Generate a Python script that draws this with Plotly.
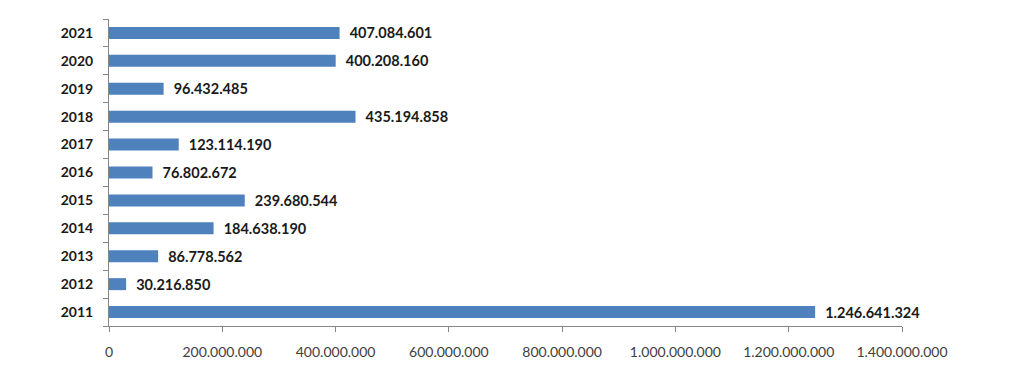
import plotly.graph_objects as go

years = ["2011", "2012", "2013", "2014", "2015", "2016", "2017", "2018", "2019", "2020", "2021"]
values = [1246641324, 30216850, 86778562, 184638190, 239680544, 76802672,
          123114190, 435194858, 96432485, 400208160, 407084601]

fig = go.Figure(go.Bar(
    y=years, x=values, orientation="h",
    marker=dict(color="#4F81BD", line=dict(width=0)),
    width=0.43,
    texttemplate="\u00a0\u00a0%{x:,d}",
    textposition="outside",
    constraintext="none",
    textfont=dict(family="Lato, Carlito, sans-serif", size=14.5, color="#1a1a1a", weight="bold"),
    cliponaxis=False,
    hoverinfo="skip",
))

fig.update_layout(
    width=1024, height=376,
    margin=dict(l=101, r=130, t=11, b=58),
    paper_bgcolor="white", plot_bgcolor="white",
    separators=",.",
    showlegend=False,
    font=dict(family="Lato, sans-serif"),
)
fig.update_xaxes(
    range=[0, 1400000000], tickvals=[0, 200000000, 400000000, 600000000, 800000000,
                                     1000000000, 1200000000, 1400000000],
    tickformat=",d", showgrid=False, zeroline=False,
    showline=True, linecolor="#868686", linewidth=1,
    ticks="outside", ticklen=5, tickcolor="#868686",
    ticklabelstandoff=8,
    tickfont=dict(family="Lato, sans-serif", size=14, color="#404040"),
)
fig.update_yaxes(
    type="category", categoryorder="array", categoryarray=years,
    showgrid=False, zeroline=False,
    showline=True, linecolor="#868686", linewidth=1,
    ticks="outside", ticklen=5, tickcolor="#868686", tickson="boundaries",
    ticklabelstandoff=12,
    tickfont=dict(family="Lato, sans-serif", size=14, color="#1a1a1a", weight="bold"),
)

fig.write_html("out.html")
